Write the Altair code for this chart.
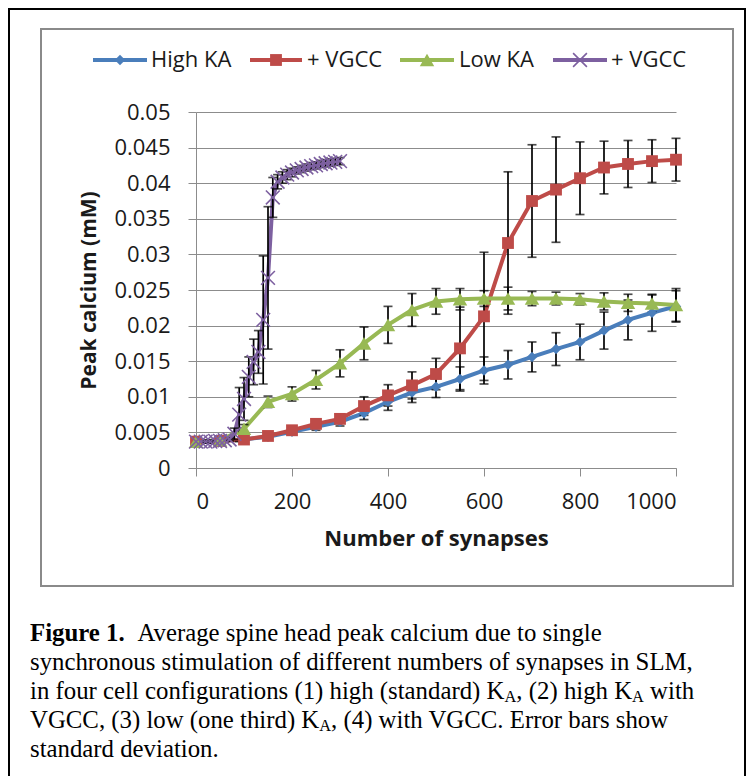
import altair as alt
import pandas as pd

# ---------------- data ----------------
X_COARSE = list(range(0, 1001, 50))
X_FINE = list(range(0, 301, 10))

HIGH_KA = [0.0037, 0.0038, 0.0040, 0.0044, 0.0051, 0.0058, 0.0065, 0.0077, 0.0093, 0.0106, 0.0114,
           0.0125, 0.0137, 0.0145, 0.0156, 0.0167, 0.0177, 0.0193, 0.0208, 0.0218, 0.0227]
HIGH_KA_SD = [0.0002, 0.0002, 0.0003, 0.0003, 0.0004, 0.0005, 0.0006, 0.0009, 0.0012, 0.0014, 0.0015,
              0.0017, 0.0019, 0.0020, 0.0021, 0.0023, 0.0025, 0.0026, 0.0028, 0.0026, 0.0022]

HIGH_VGCC = [0.0037, 0.0038, 0.0040, 0.0045, 0.0053, 0.0062, 0.0069, 0.0087, 0.0102, 0.0116, 0.0132,
             0.0168, 0.0213, 0.0316, 0.0375, 0.0391, 0.0407, 0.0422, 0.0427, 0.0431, 0.0433]
HIGH_VGCC_SD = [0.0002, 0.0002, 0.0003, 0.0003, 0.0004, 0.0005, 0.0006, 0.0013, 0.0015, 0.0019, 0.0022,
                0.0058, 0.0090, 0.0100, 0.0079, 0.0074, 0.0051, 0.0037, 0.0033, 0.0030, 0.0030]

LOW_KA = [0.0037, 0.0039, 0.0055, 0.0093, 0.0104, 0.0124, 0.0147, 0.0175, 0.0201, 0.0222, 0.0234,
          0.0237, 0.0238, 0.0238, 0.0238, 0.0238, 0.0237, 0.0234, 0.0232, 0.0231, 0.0229]
LOW_KA_SD = [0.0002, 0.0002, 0.0006, 0.0008, 0.0010, 0.0013, 0.0019, 0.0023, 0.0026, 0.0023, 0.0018,
             0.0015, 0.0011, 0.0016, 0.0010, 0.0009, 0.0008, 0.0012, 0.0012, 0.0012, 0.0023]

LOW_VGCC = [0.0037, 0.0037, 0.0037, 0.0037, 0.0038, 0.0038, 0.0039, 0.0040, 0.0048, 0.0075, 0.0097,
            0.0128, 0.0149, 0.0163, 0.0208, 0.0267, 0.0380, 0.0402, 0.0408, 0.0412, 0.0415,
            0.0418, 0.0420, 0.0422, 0.0424, 0.0425, 0.0427, 0.0428, 0.0429, 0.0430, 0.0431]
LOW_VGCC_SD = [0.0002, 0.0002, 0.0002, 0.0002, 0.0002, 0.0002, 0.0002, 0.0002, 0.0008, 0.0038, 0.0030,
               0.0028, 0.0032, 0.0030, 0.0090, 0.0100, 0.0028, 0.0010, 0.0008, 0.0007, 0.0006,
               0.0005, 0.0005, 0.0005, 0.0005, 0.0005, 0.0005, 0.0005, 0.0005, 0.0005, 0.0005]

SERIES = ["High KA", "High KA + VGCC", "Low KA", "Low KA + VGCC"]
LEGEND_LABELS = ["High KA", "+ VGCC", "Low KA", "+ VGCC"]
X_TICKS = [0, 200, 400, 600, 800, 1000]
Y_TICKS = [round(i * 0.005, 3) for i in range(11)]

CAPTION = [
    [("Figure 1.", "b"), ("  Average spine head peak calcium due to single", "r")],
    [("synchronous stimulation of different numbers of synapses in SLM,", "r")],
    [("in four cell configurations (1) high (standard) K", "r"), ("A", "sub"),
     (", (2) high K", "r"), ("A", "sub"), (" with", "r")],
    [("VGCC, (3) low (one third) K", "r"), ("A", "sub"), (", (4) with VGCC. Error bars show", "r")],
    [("standard deviation.", "r")],
]

# ---------------- styles ----------------
COLORS = ["#4A7EBB", "#BE4B48", "#98B954", "#7D60A0"]
SHAPES = ["diamond", "square", "triangle-up", "M-1,-1L1,1M-1,1L1,-1"]
SIZES = [110, 140, 210, 190]
FILLED = [True, True, True, False]

W, H = 480, 356
PAD = {"left": 188, "top": 104, "right": 70, "bottom": 308}
SANS = "Open Sans"
SERIF = "Liberation Serif"

series_data = [
    (SERIES[0], X_COARSE, HIGH_KA, HIGH_KA_SD),
    (SERIES[1], X_COARSE, HIGH_VGCC, HIGH_VGCC_SD),
    (SERIES[2], X_COARSE, LOW_KA, LOW_KA_SD),
    (SERIES[3], X_FINE, LOW_VGCC, LOW_VGCC_SD),
]
rows = []
for name, xs, ys, sds in series_data:
    for xv, yv, sv in zip(xs, ys, sds):
        rows.append({"series": name, "x": xv, "y": yv, "lo": yv - sv, "hi": yv + sv})
df = pd.DataFrame(rows)

x_scale = alt.Scale(domain=[0, 1000], nice=False, zero=False)
y_scale = alt.Scale(domain=[0, 0.05], nice=False, zero=False)
x_axis = alt.Axis(values=X_TICKS, format="d", title="Number of synapses", grid=False,
                  domainColor="#8c8c8c", tickColor="#8c8c8c", tickSize=8,
                  labelFont=SANS, labelFontSize=22, labelColor="#1a1a1a", labelPadding=15,
                  titleFont=SANS, titleFontSize=22, titleFontWeight="bold", titleColor="#1a1a1a",
                  titlePadding=16)
y_axis = alt.Axis(values=Y_TICKS, format=".3~f", title="Peak calcium (mM)", grid=True,
                  gridColor="#8c8c8c", gridWidth=1,
                  domainColor="#8c8c8c", tickColor="#8c8c8c", tickSize=8,
                  labelFont=SANS, labelFontSize=22, labelColor="#1a1a1a", labelPadding=18,
                  titleFont=SANS, titleFontSize=21, titleFontWeight="bold", titleColor="#1a1a1a",
                  titlePadding=14)

X = alt.X("x:Q", scale=x_scale, axis=x_axis)
Y = alt.Y("y:Q", scale=y_scale, axis=y_axis)

base = alt.Chart(df)
dummy = pd.DataFrame({"k": [0]})

layers = []

# frames
layers.append(alt.Chart(dummy).mark_rect(filled=False, color="black", strokeWidth=2).encode(
    x=alt.value(-187), x2=alt.value(549), y=alt.value(-103), y2=alt.value(720)))
layers.append(alt.Chart(dummy).mark_rect(filled=False, color="#8a8a8a", strokeWidth=2).encode(
    x=alt.value(-155), x2=alt.value(537), y=alt.value(-83), y2=alt.value(474)))

# lines
for i, s in enumerate(SERIES):
    layers.append(base.transform_filter(alt.datum.series == s).mark_line(
        color=COLORS[i], strokeWidth=4).encode(x=X, y=Y, order="x:Q"))

# error bars
layers.append(base.mark_errorbar(ticks={"size": 9}, thickness=1.7, color="black").encode(
    x=X, y=alt.Y("lo:Q", scale=y_scale, axis=y_axis), y2="hi:Q"))

# markers
for i, s in enumerate(SERIES):
    if FILLED[i]:
        mk = dict(filled=True, color=COLORS[i], opacity=1)
    else:
        mk = dict(filled=False, color=COLORS[i], strokeWidth=1.6, opacity=1)
    layers.append(base.transform_filter(alt.datum.series == s).mark_point(
        shape=SHAPES[i], size=SIZES[i], **mk).encode(x=X, y=Y))

# legend (manual, Excel style)
LEG_Y = -52
LEG_LINE = [(-103, -49), (54, 106), (204, 258), (357, 411)]
LEG_TEXT_X = [-45, 111, 263, 415]
for i in range(4):
    a, b = LEG_LINE[i]
    layers.append(alt.Chart(dummy).mark_rule(color=COLORS[i], strokeWidth=4).encode(
        x=alt.value(a), x2=alt.value(b), y=alt.value(LEG_Y)))
    if FILLED[i]:
        mk = dict(filled=True, color=COLORS[i], opacity=1)
    else:
        mk = dict(filled=False, color=COLORS[i], strokeWidth=1.6, opacity=1)
    layers.append(alt.Chart(dummy).mark_point(shape=SHAPES[i], size=SIZES[i], **mk).encode(
        x=alt.value((a + b) / 2), y=alt.value(LEG_Y)))
    layers.append(alt.Chart(dummy).mark_text(
        text=LEGEND_LABELS[i], align="left", baseline="middle", font=SANS, fontSize=22,
        color="#1a1a1a").encode(x=alt.value(LEG_TEXT_X[i]), y=alt.value(LEG_Y)))

# caption (Times metrics for placing sub-scripts)
TIMES = {' ': 250, '(': 333, ')': 333, ',': 250, '.': 250, '1': 500, '2': 500, '3': 500, '4': 500,
         'A': 722, 'C': 667, 'E': 611, 'G': 722, 'K': 722, 'L': 611, 'M': 889, 'S': 556, 'V': 722,
         'a': 444, 'b': 500, 'c': 444, 'd': 500, 'e': 444, 'f': 333, 'g': 500, 'h': 500, 'i': 278,
         'l': 278, 'm': 778, 'n': 500, 'o': 500, 'p': 500, 'r': 333, 's': 389, 't': 278, 'u': 500,
         'v': 500, 'w': 722, 'y': 500, 'k': 500}
TIMES_B = {'F': 611, 'i': 278, 'g': 500, 'u': 556, 'r': 444, 'e': 444, ' ': 250, '1': 500, '.': 250}

CAP_FS = 24.8
CAP_X0 = -166
CAP_Y0 = 529
CAP_STEP = 29


def twidth(txt, table, fs):
    return sum(table.get(c, 500) for c in txt) * fs / 1000.0


for li, line in enumerate(CAPTION):
    xpos = CAP_X0
    ybase = CAP_Y0 + li * CAP_STEP
    for txt, style in line:
        lead = len(txt) - len(txt.lstrip(" "))
        if style == "sub":
            fs, table, weight, yy = CAP_FS * 0.66, TIMES, "normal", ybase + CAP_FS * 0.14
        elif style == "b":
            fs, table, weight, yy = CAP_FS, TIMES_B, "bold", ybase
        else:
            fs, table, weight, yy = CAP_FS, TIMES, "normal", ybase
        xpos += lead * 250 * fs / 1000.0
        body = txt.lstrip(" ")
        layers.append(alt.Chart(dummy).mark_text(
            text=body, align="left", baseline="alphabetic", font=SERIF, fontSize=fs,
            fontWeight=weight, color="black").encode(x=alt.value(xpos), y=alt.value(yy)))
        xpos += twidth(body, table, fs)

chart = alt.layer(*layers).properties(
    width=W, height=H, padding=PAD, autosize="none", background="white"
).configure_view(stroke=None)

chart.save("out.html", embed_options={"renderer": "svg", "actions": False})
